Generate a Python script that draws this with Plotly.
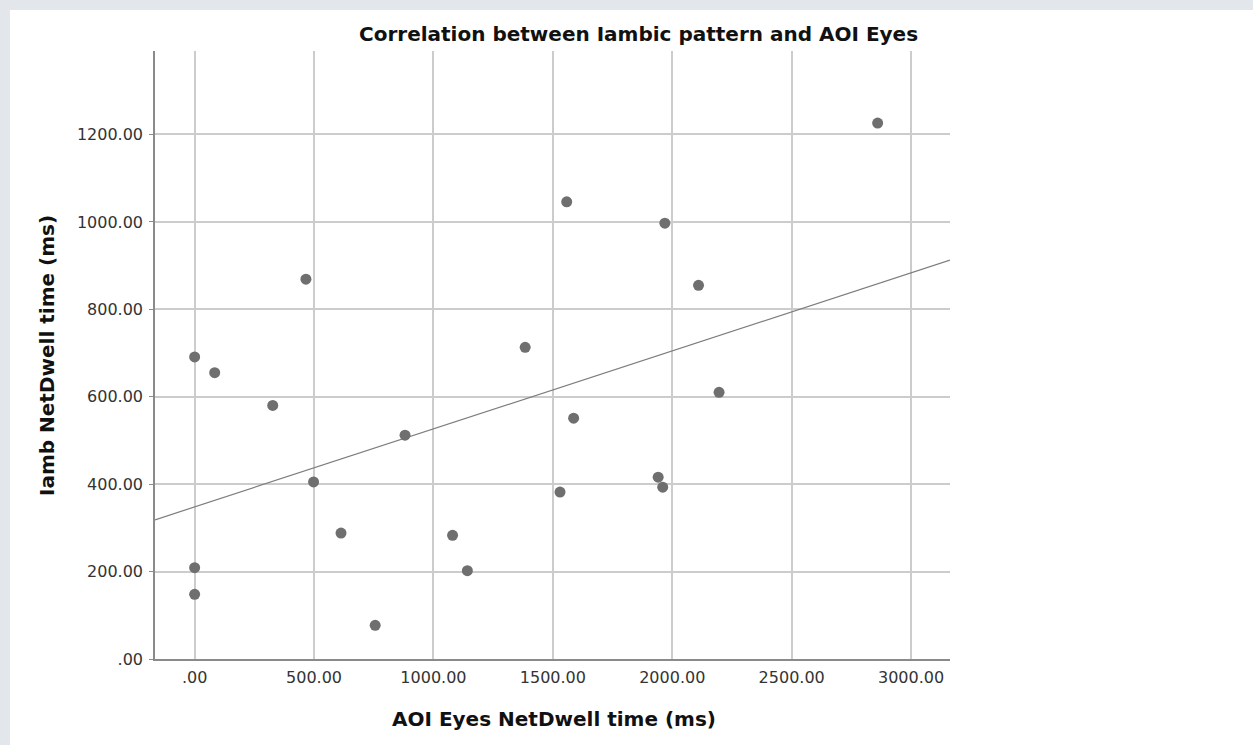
import numpy as np
import plotly.graph_objects as go

# Data
aoi_eyes = [466, 0, 84, 327, 881, 498, 613, 1080, 0, 1142, 0, 756,
            1558, 1969, 2110, 1384, 2196, 1587, 1941, 1960, 1530, 2860]
iamb = [869, 691, 655, 580, 512, 405, 288, 283, 209, 202, 148, 77,
        1046, 997, 855, 713, 610, 551, 416, 393, 382, 1226]

x_tickvals = [0, 500, 1000, 1500, 2000, 2500, 3000]
x_ticktext = [".00", "500.00", "1000.00", "1500.00", "2000.00", "2500.00", "3000.00"]
y_tickvals = [0, 200, 400, 600, 800, 1000, 1200]
y_ticktext = [".00", "200.00", "400.00", "600.00", "800.00", "1000.00", "1200.00"]

title_text = "Correlation between Iambic pattern and AOI Eyes"
x_title = "AOI Eyes NetDwell time (ms)"
y_title = "Iamb NetDwell time (ms)"

x_range = [-166, 3163]
y_range = [0, 1391]

# Linear fit line
slope, intercept = np.polyfit(aoi_eyes, iamb, 1)
fit_x = np.array(x_range, dtype=float)
fit_y = intercept + slope * fit_x

W, H = 1253, 745
L, R, T, B = 155, 950, 51, 659
pw, ph = R - L, B - T


def px2paper_x(px):
    return (px - L) / pw


def px2paper_y(py):
    return (B - py) / ph


fig = go.Figure()
fig.add_trace(go.Scatter(x=fit_x, y=fit_y, mode="lines",
                         line=dict(color="#7d7d7d", width=1.2),
                         showlegend=False, hoverinfo="skip"))
fig.add_trace(go.Scatter(x=aoi_eyes, y=iamb, mode="markers",
                         marker=dict(color="#6f6f6f", size=11),
                         showlegend=False))

font_family = "DejaVu Sans"
BG = "#e3e6ea"

fig.update_layout(
    width=W, height=H,
    margin=dict(l=L, r=W - R, t=T, b=H - B, pad=0),
    paper_bgcolor=BG,
    plot_bgcolor="rgba(0,0,0,0)",
    font=dict(family=font_family, color="#333333", size=16),
    showlegend=False,
    shapes=[dict(type="rect", xref="paper", yref="paper",
                 x0=px2paper_x(10), x1=px2paper_x(W + 5),
                 y0=px2paper_y(H + 5), y1=px2paper_y(10),
                 fillcolor="white", line=dict(width=0), layer="below")],
    annotations=[
        dict(text="<b>" + title_text + "</b>", xref="paper", yref="paper",
             x=px2paper_x(638), y=px2paper_y(34), showarrow=False,
             xanchor="center", yanchor="middle",
             font=dict(family=font_family, size=20, color="#111111")),
        dict(text="<b>" + x_title + "</b>", xref="paper", yref="paper",
             x=px2paper_x(554), y=px2paper_y(719), showarrow=False,
             xanchor="center", yanchor="middle",
             font=dict(family=font_family, size=20, color="#111111")),
        dict(text="<b>" + y_title + "</b>", xref="paper", yref="paper",
             x=px2paper_x(47), y=px2paper_y(356), showarrow=False,
             xanchor="center", yanchor="middle", textangle=-90,
             font=dict(family=font_family, size=20, color="#111111")),
    ],
)

fig.update_xaxes(range=x_range, tickvals=x_tickvals, ticktext=x_ticktext,
                 showgrid=True, gridcolor="#cccccc", gridwidth=1.5,
                 showline=True, linecolor="#8a8a8a", linewidth=1.5,
                 zeroline=False, ticks="", ticklabelstandoff=3,
                 tickfont=dict(size=16, color="#333333"), fixedrange=True)
fig.update_yaxes(range=y_range, tickvals=y_tickvals, ticktext=y_ticktext,
                 showgrid=True, gridcolor="#cccccc", gridwidth=1.5,
                 showline=True, linecolor="#8a8a8a", linewidth=1.5,
                 zeroline=False, ticks="outside", ticklen=4, tickcolor="#8a8a8a",
                 tickwidth=1, ticklabelstandoff=3,
                 tickfont=dict(size=16, color="#333333"), fixedrange=True)

fig.write_html(
    "out.html",
    config={"displayModeBar": False},
    post_script="document.body.style.margin='0';"
                "document.body.style.background='" + BG + "';"
                "document.body.style.overflow='hidden';",
)
